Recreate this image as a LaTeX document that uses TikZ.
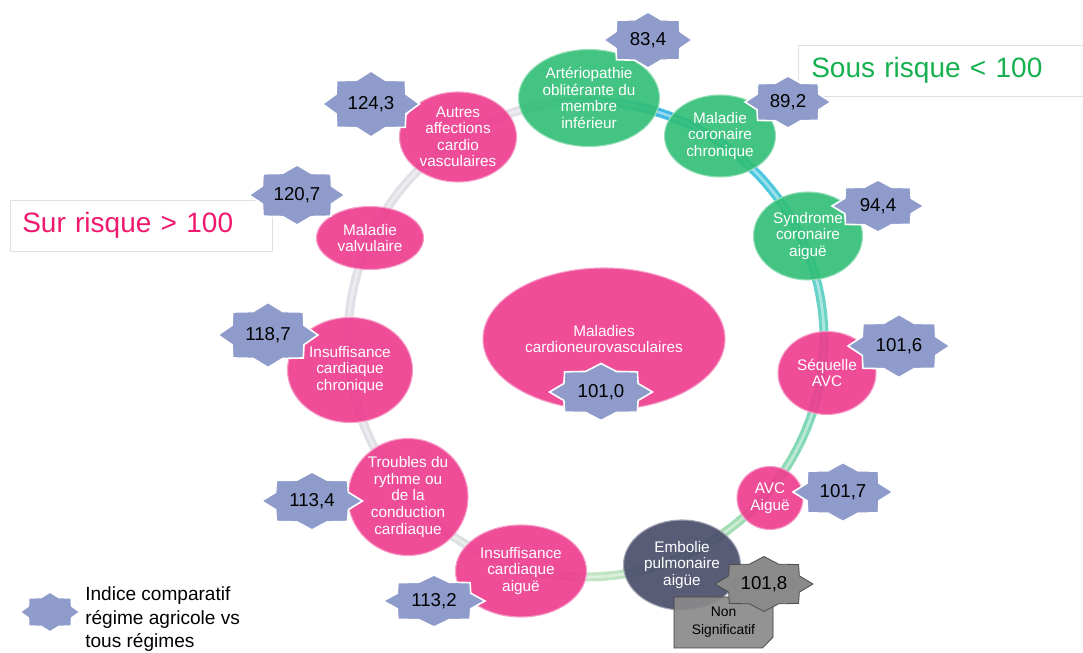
\documentclass[tikz,border=0pt]{standalone}
\usepackage{fontspec}
\setmainfont{Liberation Sans}
\usetikzlibrary{shapes.geometric,shapes.misc}
\definecolor{rose}{HTML}{EE3A8E}
\definecolor{vert}{HTML}{30BE75}
\definecolor{ardoise}{HTML}{464A68}
\definecolor{lavande}{HTML}{8E9BCB}
\definecolor{gris}{HTML}{8A8A8A}
\definecolor{surrisque}{HTML}{F0186E}
\definecolor{sousrisque}{HTML}{16B050}
\definecolor{anA}{HTML}{48C6E2}
\definecolor{anB}{HTML}{62D2CC}
\definecolor{anC}{HTML}{78D6B8}
\definecolor{anD}{HTML}{9EDCB2}
\definecolor{anE}{HTML}{C4E4C4}
\definecolor{anF}{HTML}{40B8E4}
\definecolor{anG}{HTML}{E0E0E6}
\newcommand{\indice}[6][etoile]{%
  \fill[#1, shift={(#3)}] plot[samples at={0,22.5,...,337.5}, variable=\t]
     (\t:{#4*(1-.22*mod(round(\t/22.5),2))} and {#5*(1-.22*mod(round(\t/22.5),2))}) -- cycle;
  \node[valeur] (#2) at (#3) {#6};}
\tikzset{
  maladie/.style={ellipse, fill=#1, fill opacity=.9, text opacity=1, draw=#1!50!white,
    line width=.8pt, text=white, align=center, inner sep=0pt, font=\fontsize{11.5}{12.4}\selectfont},
  taille/.style 2 args={minimum width=#1*.75pt, minimum height=#2*.75pt},
  etoile/.style={fill=lavande, draw=white, line width=1.2pt},
  etoilegrise/.style={fill=gris, draw=black!70, line width=.6pt},
  valeur/.style={font=\fontsize{14}{16}\selectfont, inner sep=0pt},
  anneau/.style={line width=6.75pt},
  legende/.style={draw=black!12, fill=white, anchor=west, align=left, inner ysep=0pt,
    font=\fontsize{21}{24}\selectfont},
  nonsig/.style={chamfered rectangle, chamfered rectangle corners=south east,
    chamfered rectangle xsep=4pt, chamfered rectangle ysep=4pt, fill=gris, draw=black!75,
    line width=.6pt, fill opacity=.92, text opacity=1, align=center, inner sep=0pt,
    minimum width=99*.75pt, minimum height=51*.75pt, font=\fontsize{10.4}{13.5}\selectfont}
}
\begin{document}
\begin{tikzpicture}[x=.75pt, y=.75pt]
  \path[use as bounding box, clip] (0,0) rectangle (1083,653);
  \coordinate (o) at (586,314);
  % anneau
  \foreach \deb/\fin/\ca/\cb in {-90/-50/anE/anD, -50/-15/anD/anC, -15/15/anC/anB, 15/45/anB/anA,
      45/72/anA/anF, 72/100/anF/anG, 100/230/anG/anG, 230/270/anG/anE}
    \foreach \t in {0,10,...,90} {
      \pgfmathsetmacro\a{\deb+(\fin-\deb)*\t/100}
      \pgfmathsetmacro\b{\deb+(\fin-\deb)*(\t+10)/100+.5}
      \draw[anneau, color=\cb!\t!\ca] (o) ++(\a:238) arc[start angle=\a, end angle=\b, radius=238];
    }
  \draw[white, opacity=.45, line width=2pt] (o) circle[radius=238];

  \node[legende, text=sousrisque, minimum height=51*.75pt, text width=274*.75pt, inner xsep=13*.75pt]
    (sous) at (798,582.5) {Sous risque < 100};
  \node[legende, text=surrisque, minimum height=51*.75pt, text width=238*.75pt, inner xsep=12*.75pt]
    (sur) at (10,427.5) {Sur risque > 100};

  \node[maladie=rose, taille={242}{142}] (cnv) at (604,314) {Maladies\\cardioneurovasculaires};
  \node[maladie=vert, taille={141}{97}] (aomi) at (589,555) {Artériopathie\\oblitérante du\\membre\\inférieur};
  \node[maladie=vert, taille={111}{82}] (mcc) at (720,517) {Maladie\\coronaire\\chronique};
  \node[maladie=vert, taille={109}{88}] (sca) at (808,417) {Syndrome\\coronaire\\aiguë};
  \node[maladie=rose, taille={98}{83}] (savc) at (827,280) {Séquelle\\AVC};
  \node[maladie=rose, taille={66}{63}] (avc) at (770,155) {AVC\\Aiguë};
  \node[maladie=ardoise, taille={117}{90}] (ep) at (682,88) {Embolie\\pulmonaire\\aigüe};
  \node[maladie=rose, taille={131}{92}] (ica) at (521,82) {Insuffisance\\cardiaque\\aiguë};
  \node[maladie=rose, taille={120}{117}] (trc) at (408,156) {Troubles du\\rythme ou\\de la\\conduction\\cardiaque};
  \node[maladie=rose, taille={125}{105}] (icc) at (350,283) {Insuffisance\\cardiaque\\chronique};
  \node[maladie=rose, taille={107}{63}] (mv) at (370,415) {Maladie\\valvulaire};
  \node[maladie=rose, taille={117}{90}] (acv) at (458,516) {Autres\\affections\\cardio\\vasculaires};

  \indice{i834}{648,613}{44.5}{28}{83,4}
  \indice{i892}{788,551}{43}{26}{89,2}
  \indice{i944}{878,447}{46}{26}{94,4}
  \indice{i1016}{899,307}{51}{31.5}{101,6}
  \indice{i1017}{843,161}{50}{29.5}{101,7}
  \node[nonsig] (ns) at (723.5,30.5) {Non\\Significatif};
  \indice[etoilegrise]{i1018}{764,69}{49}{27.5}{101,8}
  \indice{i1132}{434,52}{51}{26}{113,2}
  \indice{i1134}{312,152}{50.5}{29}{113,4}
  \indice{i1187}{268,318}{50}{32.5}{118,7}
  \indice{i1207}{297,458}{48}{30}{120,7}
  \indice{i1243}{371,549}{48.5}{33}{124,3}
  \indice{i1010}{601,261}{51.5}{28.5}{101,0}

  % legende
  \indice{leg}{50,41}{30}{20}{}
  \node[anchor=west, align=left, inner sep=0pt, font=\fontsize{14.3}{17.6}\selectfont]
    (legtxt) at (85,33.5) {Indice comparatif\\régime agricole vs\\tous régimes};
\end{tikzpicture}
\end{document}
